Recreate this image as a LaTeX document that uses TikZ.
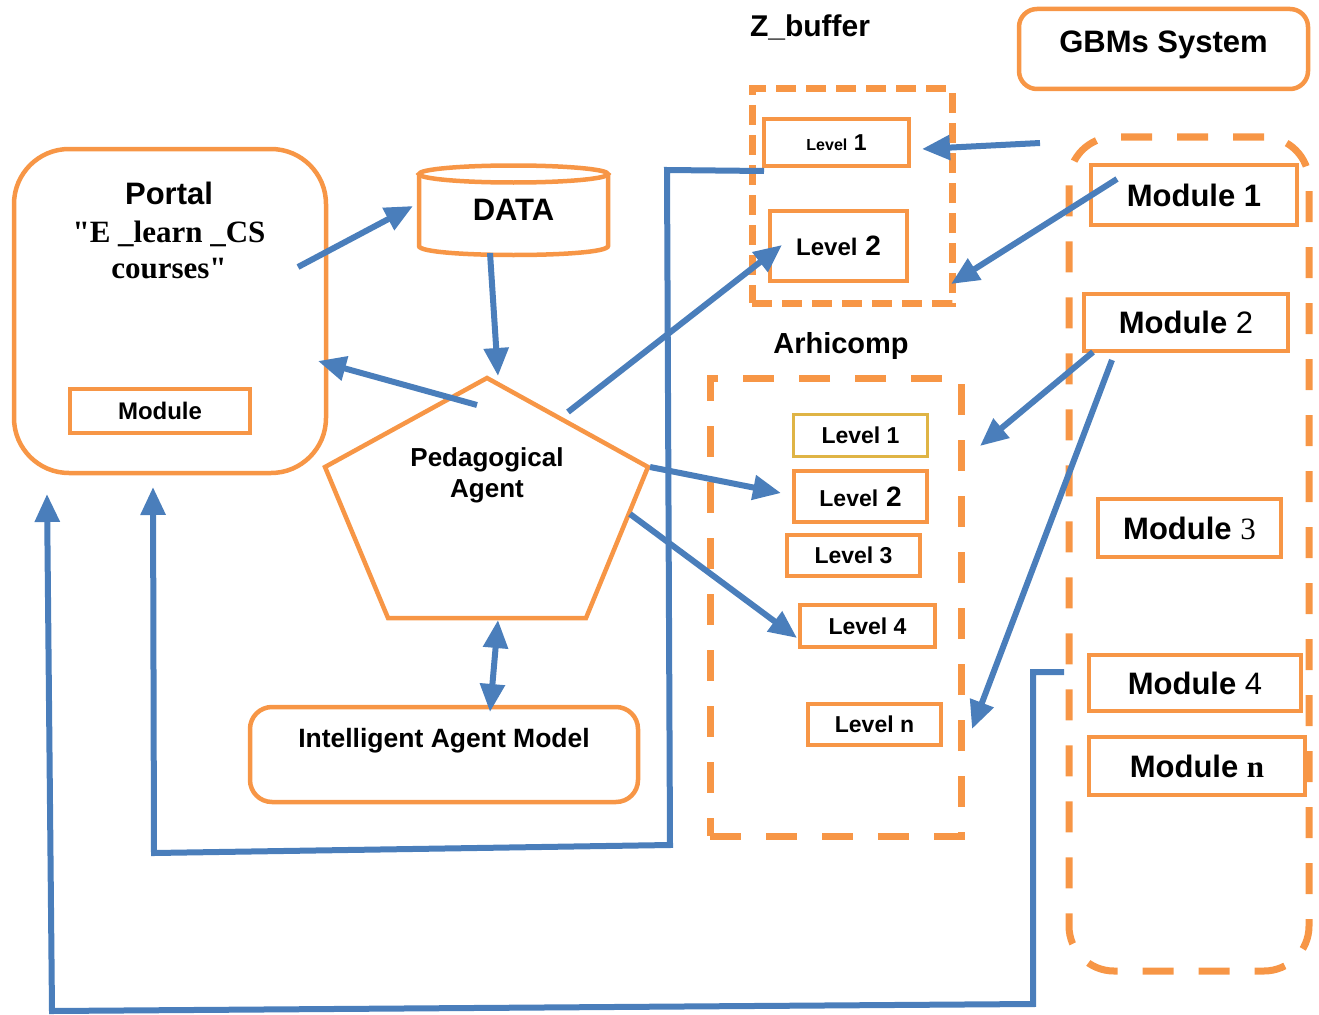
\documentclass[tikz,border=0pt]{standalone}
\usepackage{fontspec}
\setmainfont{Liberation Sans}
\newfontfamily\tnr{Liberation Serif}
\usetikzlibrary{positioning, arrows.meta}

\definecolor{orng}{HTML}{F79646}
\definecolor{blu}{HTML}{4A7EBB}
\definecolor{gold}{HTML}{DFB445}
\newcommand{\fsz}[1]{\fontsize{#1}{#1}\selectfont}

\begin{document}
\begin{tikzpicture}[x=1pt, y=-1pt,
      box/.style={draw=orng, line width=4.5pt, inner sep=0pt, align=center},
      lvl/.style={box, font=\bfseries\fsz{23}},
      mod/.style={box, font=\fsz{31}},
      dbox/.style={draw=orng, line width=7pt, dash pattern=on 31pt off 25pt},
      arr/.style={draw=blu, line width=6pt, -{Triangle[length=28pt,width=24pt]}},
      dbl/.style={draw=blu, line width=6pt,
                  {Triangle[length=28pt,width=24pt]}-{Triangle[length=28pt,width=24pt]}},
      wire/.style={draw=blu, line width=6pt}]
    \useasboundingbox (0,0) rectangle (1319,1014);

    % portal
    \node[box, rounded corners=55pt, minimum width=312pt, minimum height=324pt] (portal) at (170,311) {};
    \node[anchor=base, font=\bfseries\fsz{31}]     (ptitle) at (169,204) {Portal};
    \node[anchor=base, font=\tnr\bfseries\fsz{31}] (psub)   at (169,242) {"E \_learn \_CS};
    \node[anchor=base, font=\tnr\bfseries\fsz{31}] (psub2)  at (169,278) {courses"};
    \node[box, minimum width=180pt, minimum height=44pt, font=\bfseries\fsz{24}] (pmod) at (160,411) {Module};

    % data base
    \node[font=\bfseries\fsz{31}, minimum width=189pt, minimum height=84pt] (data) at (513.5,210) {DATA};
    \draw[orng, line width=4.5pt] (513.5,174) ellipse [x radius=94.5, y radius=8.5];
    \draw[orng, line width=4.5pt] (419,174) -- (419,246) .. controls (419,258) and (608,258) .. (608,246) -- (608,174);

    % agent
    \draw[orng, line width=4.5pt] (487,378) -- (648,467) -- (586,618) -- (388,618) -- (325,467) -- cycle;
    \node[align=center, font=\bfseries\fontsize{26}{31}\selectfont] (agent) at (487,475) {Pedagogical\\Agent};
    \node[box, rounded corners=22pt, minimum width=388pt, minimum height=95pt,
          text height=19pt, text depth=34pt, font=\bfseries\fsz{26.5}] (iam) at (444,754.5) {Intelligent Agent Model};

    % Z_buffer
    \node[anchor=base, font=\bfseries\fsz{30}] (zlabel) at (810,37) {Z\_buffer};
    \node[dbox, dash pattern=on 20pt off 10pt, minimum width=200pt, minimum height=214pt] (zbuf) at (852,196) {};
    \node[box, minimum width=145pt, minimum height=47pt, font=\bfseries\fsz{23}] (zl1) at (836.5,142.5) {{\fsz{16}Level} 1};
    \node[box, minimum width=137pt, minimum height=70pt, font=\bfseries\fsz{28}] (zl2) at (838.5,246) {{\fsz{24}Level} 2};

    % Arhicomp
    \node[anchor=base, font=\bfseries\fsz{29}] (alabel) at (841,353) {Arhicomp};
    \node[dbox, minimum width=251pt, minimum height=458pt] (arh) at (835.5,607) {};
    \node[lvl, draw=gold, line width=3pt, minimum width=134pt, minimum height=42pt] (al1) at (860.5,435.5) {Level 1};
    \node[box, minimum width=133pt, minimum height=51pt, font=\bfseries\fsz{28}] (al2) at (860.5,496.5) {{\fsz{23}Level} 2};
    \node[lvl, minimum width=133pt, minimum height=41pt] (al3) at (853.5,555.5) {Level 3};
    \node[lvl, minimum width=135pt, minimum height=42pt] (al4) at (867.5,626) {Level 4};
    \node[lvl, minimum width=133pt, minimum height=41pt] (aln) at (874.5,724.5) {Level n};

    % GBMs
    \node[box, rounded corners=18pt, minimum width=289pt, minimum height=80pt,
          text height=22pt, text depth=14pt, font=\bfseries\fsz{31}] (gbms) at (1163.5,49) {GBMs System};
    \node[dbox, rounded corners=45pt, minimum width=240pt, minimum height=834pt] (gframe) at (1189,554) {};
    \node[mod, minimum width=206pt, minimum height=60pt] (m1) at (1194,195)   {\bfseries Module 1};
    \node[mod, minimum width=204pt, minimum height=57pt] (m2) at (1186,322.5) {{\bfseries Module} 2};
    \node[mod, minimum width=183pt, minimum height=58pt] (m3) at (1189.5,528) {{\bfseries Module} {\tnr 3}};
    \node[mod, minimum width=212pt, minimum height=56pt] (m4) at (1195,683)   {{\bfseries Module} 4};
    \node[mod, minimum width=216pt, minimum height=58pt] (mn) at (1197,766)   {{\bfseries Module} {\tnr\bfseries n}};

    % arrow ends
    \coordinate (pOut) at (298,267);   \coordinate (dIn)  at (413,206);
    \coordinate (dOut) at (490,253);   \coordinate (gTop) at (498,376);
    \coordinate (gOut) at (477,405);   \coordinate (pIn)  at (318,361);
    \coordinate (gZ)   at (568,412);   \coordinate (z2In) at (782,245);
    \coordinate (gA2)  at (650,467);   \coordinate (a2In) at (781,493);
    \coordinate (gA4)  at (630,514);   \coordinate (a4In) at (797,638);
    \coordinate (gBot) at (498,620);   \coordinate (iTop) at (490,712);
    \coordinate (sOut) at (1040,143);  \coordinate (z1In) at (922,149);
    \coordinate (m1Out) at (1117,179); \coordinate (zIn)  at (951,284);
    \coordinate (m2Out) at (1093,352); \coordinate (aIn)  at (980,446);
    \coordinate (m2Low) at (1112,360); \coordinate (anIn) at (972,729);

    \draw[arr] (pOut) -- (dIn);
    \draw[arr] (dOut) -- (gTop);
    \draw[arr] (gOut) -- (pIn);
    \draw[arr] (gZ) -- (z2In);
    \draw[arr] (gA2) -- (a2In);
    \draw[arr] (gA4) -- (a4In);
    \draw[dbl] (gBot) -- (iTop);
    \draw[arr] (sOut) -- (z1In);
    \draw[arr] (m1Out) -- (zIn);
    \draw[arr] (m2Out) -- (aIn);
    \draw[arr] (m2Low) -- (anIn);

    % feedback lines
    \coordinate (zb) at (764,171);
    \coordinate (m4b) at (1064,672);
    \draw[wire, -{Triangle[length=28pt,width=24pt]}] (zb) -- (667,170) -- (670,845) -- (154,853) -- (153,487);
    \draw[wire, -{Triangle[length=28pt,width=24pt]}] (m4b) -- (1033,672) -- (1033,1004) -- (52,1011) -- (47,494);
  \end{tikzpicture}
\end{document}
